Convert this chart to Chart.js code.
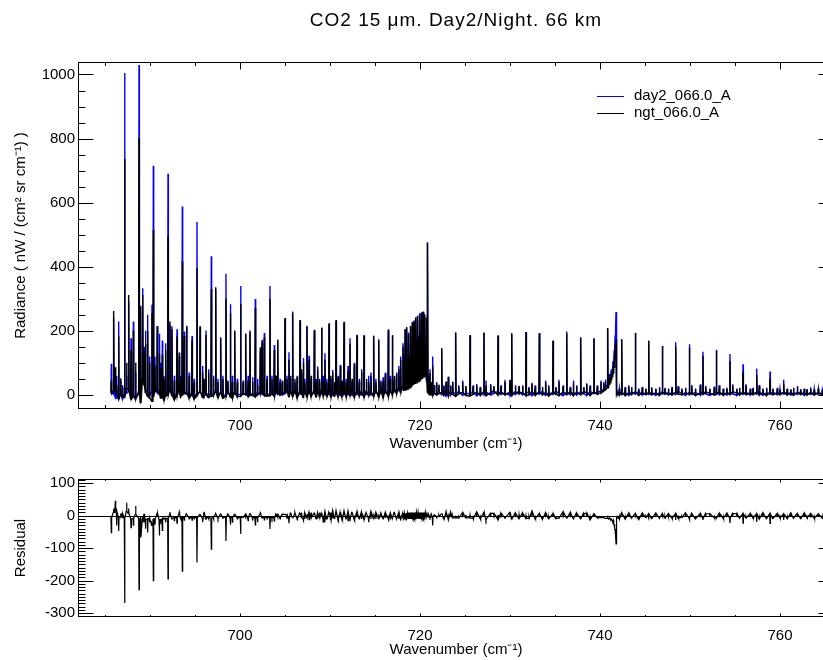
<!DOCTYPE html>
<html>
<head>
<meta charset="utf-8">
<title>CO2 15 um Day2/Night 66 km</title>
<script src="https://cdn.jsdelivr.net/npm/chart.js@4.4.1/dist/chart.umd.min.js"></script>
<style>
  html, body { margin: 0; padding: 0; background: #fff; }
  #wrap { position: relative; width: 823px; height: 660px; overflow: hidden; }
  #wrap canvas { position: absolute; left: 0; }
</style>
</head>
<body>
<div id="wrap">
  <canvas id="radianceChart" width="850" height="458" style="top:0"></canvas>
  <canvas id="residualChart" width="850" height="202" style="top:458px"></canvas>
</div>
<script>
// line centres (cm-1), in groups of ten
const lineWn = [
  685.70, 685.96, 686.15, 686.30, 686.52, 686.75, 686.95, 687.18, 687.40, 687.63,
  687.89, 688.15, 688.40, 688.78, 688.96, 689.19, 689.35, 689.50, 689.74, 689.95,
  690.22, 690.37, 690.55, 690.81, 691.04, 691.20, 691.37, 691.55, 691.74, 692.00,
  692.22, 692.44, 692.70, 693.00, 693.25, 693.40, 693.59, 693.81, 694.07, 694.35,
  694.67, 694.90, 695.22, 695.56, 695.85, 696.00, 696.22, 696.50, 696.81, 697.05,
  697.30, 697.55, 697.85, 698.10, 698.44, 698.65, 698.93, 699.15, 699.41, 699.70,
  700.07, 700.35, 700.63, 700.90, 701.11, 701.40, 701.70, 701.95, 702.26, 702.45,
  702.70, 703.00, 703.33, 703.55, 703.81, 704.00, 704.19, 704.45, 704.70, 705.00,
  705.22, 705.44, 705.62, 705.85, 706.10, 706.35, 706.67, 706.85, 707.04, 707.20,
  707.44, 707.67, 707.90, 708.26, 708.45, 708.63, 708.85, 709.07, 709.25, 709.44,
  709.65, 709.89, 710.10, 710.30, 710.50, 710.67, 710.90, 711.15, 711.35, 711.56,
  711.80, 712.00, 712.22, 712.45, 712.70, 713.00, 713.25, 713.50, 713.78, 714.05,
  714.30, 714.55, 714.85, 715.10, 715.41, 715.65, 715.90, 716.15, 716.48, 716.70,
  716.93, 717.15, 717.40, 717.65, 717.85, 718.11, 718.25, 718.35, 718.45, 718.55,
  718.65, 718.75, 718.85, 718.95, 719.05, 719.15, 719.25, 719.35, 719.45, 719.55,
  719.65, 719.74, 719.85, 719.95, 720.05, 720.15, 720.25, 720.35, 720.45, 720.55,
  720.65, 720.75, 720.85, 720.95, 721.11, 721.25, 721.41, 721.60, 721.85, 722.10,
  722.41, 722.65, 722.90, 723.15, 723.40, 723.63, 723.96, 724.30, 724.74, 725.10,
  725.56, 725.90, 726.30, 726.70, 727.11, 727.33, 727.85, 728.20, 728.67, 729.00,
  729.44, 730.00, 730.19, 730.60, 731.00, 731.40, 731.78, 732.10, 732.44, 732.80,
  733.26, 733.60, 733.96, 734.30, 734.78, 735.10, 735.44, 735.90, 736.30, 736.70,
  737.04, 737.40, 737.85, 738.20, 738.52, 738.90, 739.33, 739.70, 740.11, 740.40,
  740.60, 740.85, 741.00, 741.11, 741.25, 741.40, 741.48, 741.58, 741.68, 741.78,
  741.90, 742.15, 742.41, 742.80, 743.20, 743.50, 743.93, 744.30, 744.70, 745.10,
  745.41, 745.74, 746.20, 746.60, 746.93, 747.22, 747.60, 748.00, 748.41, 748.70,
  749.10, 749.50, 749.93, 750.19, 750.60, 751.15, 751.44, 751.74, 752.20, 752.70,
  752.93, 753.26, 753.70, 754.10, 754.44, 754.74, 755.20, 755.50, 755.89, 756.22,
  756.70, 757.00, 757.41, 757.70, 758.10, 758.50, 758.89, 759.20, 759.70, 760.00,
  760.41, 760.80, 761.20, 761.50, 761.93, 762.30, 762.70, 763.00, 763.41, 763.80,
  764.26, 764.70, 765.20, 765.90
];

// peak radiance of each line, day2_066.0_A
const dayPeak = [
  97, 240, 40, 60, 229, 45, 30, 1005, 60, 290,
  177, 229, 70, 1030, 278, 333, 150, 200, 250, 120,
  281, 715, 120, 214, 191, 100, 170, 60, 161, 690,
  218, 214, 60, 205, 120, 60, 588, 198, 210, 70,
  184, 50, 540, 210, 90, 40, 201, 80, 433, 60,
  330, 50, 175, 60, 378, 40, 283, 60, 198, 50,
  340, 45, 191, 60, 195, 55, 299, 50, 140, 172,
  193, 60, 340, 60, 156, 60, 172, 50, 40, 236,
  60, 133, 50, 260, 40, 60, 230, 70, 115, 50,
  212, 122, 50, 200, 50, 89, 40, 207, 60, 130,
  50, 220, 50, 78, 40, 230, 60, 94, 45, 225,
  50, 90, 177, 40, 100, 188, 50, 80, 187, 40,
  60, 70, 185, 50, 174, 45, 55, 70, 205, 60,
  187, 50, 70, 90, 120, 161, 125, 205, 95, 212,
  115, 195, 125, 215, 155, 228, 145, 232, 165, 242,
  175, 247, 185, 255, 195, 258, 205, 260, 215, 252,
  155, 242, 476, 60, 80, 40, 120, 30, 40, 30,
  140, 30, 40, 57, 30, 42, 195, 30, 45, 25,
  185, 30, 34, 25, 195, 45, 34, 25, 184, 30,
  47, 47, 193, 30, 25, 30, 196, 25, 38, 30,
  193, 25, 45, 30, 170, 25, 47, 30, 198, 25,
  45, 30, 180, 25, 36, 30, 177, 30, 45, 40,
  48, 208, 65, 57, 80, 105, 99, 140, 185, 259,
  10, 20, 174, 25, 30, 25, 193, 20, 25, 20,
  169, 24, 20, 25, 153, 22, 20, 25, 164, 28,
  20, 22, 158, 31, 20, 33, 135, 28, 20, 26,
  141, 31, 20, 22, 128, 33, 20, 22, 96, 33,
  20, 22, 82, 31, 20, 22, 73, 20, 22, 18,
  47, 20, 18, 22, 28, 18, 20, 18, 24, 18,
  20, 15, 15, 12
];

// peak radiance of each line, ngt_066.0_A
const ngtPeak = [
  45, 262, 86, 30, 182, 52, 22, 736, 100, 312,
  140, 200, 100, 802, 276, 312, 132, 160, 198, 100,
  255, 515, 92, 214, 130, 84, 125, 52, 140, 495,
  229, 205, 45, 182, 132, 50, 417, 184, 216, 60,
  170, 40, 396, 214, 70, 50, 188, 70, 330, 50,
  336, 40, 180, 50, 300, 45, 255, 40, 201, 40,
  284, 40, 191, 45, 201, 40, 271, 30, 149, 165,
  180, 50, 299, 50, 140, 60, 172, 40, 45, 240,
  50, 110, 60, 255, 50, 55, 234, 80, 100, 40,
  216, 110, 60, 203, 40, 80, 50, 210, 40, 110,
  40, 224, 60, 70, 40, 234, 55, 90, 40, 228,
  40, 75, 160, 50, 95, 185, 40, 70, 184, 50,
  40, 60, 182, 40, 170, 40, 45, 65, 201, 50,
  185, 60, 65, 80, 110, 150, 120, 205, 90, 210,
  110, 190, 120, 215, 150, 225, 140, 230, 160, 240,
  170, 245, 180, 250, 190, 255, 200, 258, 210, 250,
  150, 240, 476, 60, 68, 40, 90, 30, 36, 32,
  146, 26, 42, 55, 26, 40, 195, 26, 40, 28,
  187, 26, 30, 22, 193, 30, 30, 28, 186, 26,
  40, 45, 190, 26, 28, 26, 196, 22, 35, 26,
  192, 22, 40, 26, 168, 22, 40, 26, 192, 22,
  35, 26, 178, 22, 34, 26, 176, 26, 40, 35,
  42, 208, 55, 50, 70, 90, 85, 110, 140, 172,
  8, 18, 174, 22, 26, 22, 193, 18, 22, 18,
  169, 22, 18, 22, 153, 20, 18, 22, 151, 25,
  18, 20, 146, 28, 18, 30, 122, 25, 18, 24,
  138, 28, 18, 20, 106, 30, 18, 20, 73, 30,
  18, 20, 63, 28, 18, 20, 49, 18, 20, 16,
  34, 18, 16, 20, 24, 16, 18, 16, 19, 16,
  18, 14, 13, 10
];

// radiance at the foot of each line (continuum + noise)
const dayFoot = [
  8, 2, -6, -10, -8, 4, -12, 0, 6, 10,
  -4, 2, -14, 12, 40, 50, 30, 20, 6, -2,
  10, 4, 20, 8, 14, 2, 10, -6, 4, 8,
  12, 6, -8, 4, 12, 0, 6, 10, 2, -4,
  6, -6, 4, 8, 0, -4, 6, -2, 4, 2,
  8, -2, 4, -6, 2, 6, 0, -4, 4, 0,
  2, 6, 0, 4, -2, 4, 0, 6, 2, 10,
  4, 0, 4, 8, 2, 6, 2, 6, 0, 4,
  8, 2, 6, 2, 6, 0, 4, 8, 2, 6,
  0, 6, 2, 6, 0, 6, 2, 4, 8, 2,
  6, 2, 6, 0, 4, 2, 6, 0, 4, 2,
  6, 2, 6, 0, 4, 2, 6, 0, 4, 2,
  6, 0, 4, 6, 2, 6, 2, 6, 4, 8,
  6, 10, 12, 14, 16, 18, 20, 24, 22, 28,
  26, 32, 30, 36, 34, 40, 38, 44, 42, 48,
  46, 52, 50, 56, 54, 60, 58, 64, 62, 68,
  60, 40, 10, 6, 4, 6, 2, 4, 2, 6,
  2, 9, -2, 6, 0, 8, 3, 10, -1, 5,
  4, 10, -2, 7, 1, 9, 0, 5, 11, 2,
  6, -1, 8, 2, 11, 0, 5, 9, -2, 7,
  3, 10, -1, 6, 2, 11, 4, -2, 8, 1,
  7, 0, 9, 3, -1, 10, 4, 8, 12, 18,
  24, 30, 40, 48, 58, 72, 84, 110, 150, 200,
  6, 9, 1, 7, -1, 8, 3, 10, 0, 6,
  2, 8, -1, 6, 3, 9, 0, 7, 2, 10,
  5, -1, 8, 2, 7, 0, 9, 3, -1, 6,
  9, 1, 6, 0, 8, 3, -1, 7, 2, 8,
  0, 7, 3, 9, -1, 6, 2, 8, 1, 7,
  3, 8, 0, 6, 2, 9, -1, 5, 2, 7,
  2, 7, 0, 5
];

const ngtFoot = [
  4, 12, 18, 2, -12, 0, -6, -8, 20, 16,
  -14, -6, -10, 4, -25, 44, 36, 8, -4, -10,
  -20, -6, 10, 14, 2, -10, 2, -16, -4, 0,
  16, -2, -14, -2, 18, -6, 0, 4, 8, -10,
  0, -12, -2, 12, -8, 4, 0, -8, -4, -2,
  12, -8, 8, -10, -4, 10, -6, -10, 8, -6,
  -4, 2, 4, -4, 4, -2, -6, 0, 8, 4,
  -2, -4, -2, 2, -4, 10, 6, 0, 4, 8,
  10, -6, 14, -4, 12, -8, 12, 2, -8, 12,
  -6, 14, -4, 14, -8, 12, -4, 12, -2, 10,
  -4, 12, -6, 10, -4, 12, -4, 10, -6, 12,
  -4, 12, -2, 10, -6, 12, -2, 10, -6, 12,
  -2, 10, -4, 14, -6, 12, -6, 14, -4, 14,
  0, 20, 4, 22, 8, 26, 12, 30, 14, 36,
  18, 42, 22, 46, 26, 50, 30, 54, 34, 58,
  38, 62, 42, 66, 46, 70, 50, 74, 54, 78,
  64, 44, 6, 10, 0, 8, -2, 6, 0, 4,
  8, -1, 7, -3, 9, 1, -4, 3, 8, -2,
  -3, 2, 8, -1, 10, -2, 7, 12, 0, 9,
  0, 9, -2, 10, 3, 8, -3, 1, 10, -1,
  9, 0, 7, -3, 8, 2, -2, 9, 1, 10,
  -2, 8, 1, 10, 7, -1, 9, 2, 6, 12,
  16, 22, 30, 38, 46, 58, 66, 84, 110, 140,
  2, 0, 8, -2, 6, 1, 9, -1, 7, 1,
  7, 0, 6, -1, 9, 2, 6, 0, 8, 3,
  0, 7, 1, 8, -2, 6, 2, 9, 5, 0,
  2, 8, -1, 7, 1, 9, 6, 0, 8, 1,
  6, 1, 8, 0, 7, -2, 8, 0, 7, 1,
  8, 0, 7, -1, 8, 1, 6, 0, 8, 0,
  7, 0, 6, 1
];

// labelled ticks
const wnTicks = [700, 720, 740, 760];
const radTicks = [0, 200, 400, 600, 800, 1000];
const resTicks = [-300, -200, -100, 0, 100];

// each line is a narrow spike: foot, peak, foot
function spectrum(peaks, feet) {
  const pts = [];
  lineWn.forEach((wn, i) => {
    pts.push({ x: wn - 0.04, y: feet[i] });
    pts.push({ x: wn, y: peaks[i] });
    pts.push({ x: wn + 0.04, y: feet[i] });
  });
  return pts;
}

const dayPts = spectrum(dayPeak, dayFoot);
const ngtPts = spectrum(ngtPeak, ngtFoot);
const residPts = ngtPts.map((p, i) => ({ x: p.x, y: p.y - dayPts[i].y }));

Chart.defaults.font.family = "'Liberation Sans', Arial, sans-serif";
Chart.defaults.font.size = 15;
Chart.defaults.color = '#000';

// box around the plot with inward ticks on all four sides, plus title/legend/zero line
const idlFrame = {
  id: 'idlFrame',
  afterDraw(chart, args, o) {
    const { ctx, chartArea: a } = chart;
    const xs = chart.scales.x, ys = chart.scales.y;
    const L = Math.round(a.left) + 0.5, R = Math.round(a.right) - 0.5;
    const T = Math.round(a.top) + 0.5, B = Math.round(a.bottom) - 0.5;
    ctx.save();
    ctx.strokeStyle = '#000';
    ctx.lineWidth = 1;
    ctx.strokeRect(L, T, R - L, B - T);
    ctx.beginPath();
    for (let v = Math.ceil(xs.min / o.xMinor) * o.xMinor; v <= xs.max; v += o.xMinor) {
      const px = Math.round(xs.getPixelForValue(v)) + 0.5;
      const len = v % o.xMajor === 0 ? o.xLen[0] : o.xLen[1];
      ctx.moveTo(px, B); ctx.lineTo(px, B - len);
      ctx.moveTo(px, T); ctx.lineTo(px, T + len);
    }
    for (let v = Math.ceil(ys.min / o.yMinor) * o.yMinor; v <= ys.max; v += o.yMinor) {
      const py = Math.round(ys.getPixelForValue(v)) + 0.5;
      const len = v % o.yMajor === 0 ? o.yLen[0] : o.yLen[1];
      ctx.moveTo(L, py); ctx.lineTo(L + len, py);
      ctx.moveTo(R, py); ctx.lineTo(R - len, py);
    }
    if (o.zeroLine) {
      const py = Math.round(ys.getPixelForValue(0)) + 0.5;
      ctx.moveTo(L, py); ctx.lineTo(R, py);
    }
    ctx.stroke();

    if (o.title) {
      ctx.font = "19px 'Liberation Sans', Arial, sans-serif";
      ctx.letterSpacing = '1px';
      ctx.fillStyle = '#000';
      ctx.textAlign = 'center';
      ctx.textBaseline = 'middle';
      ctx.fillText(o.title, (a.left + a.right) / 2, 21);
      ctx.letterSpacing = '0px';
    }
    if (o.legend) {
      ctx.font = "15px 'Liberation Sans', Arial, sans-serif";
      ctx.textAlign = 'left';
      ctx.textBaseline = 'middle';
      chart.data.datasets.forEach((ds, i) => {
        const yy = 96.5 + i * 17;
        ctx.strokeStyle = ds.borderColor;
        ctx.lineWidth = 1;
        ctx.beginPath();
        ctx.moveTo(597, yy); ctx.lineTo(624, yy);
        ctx.stroke();
        ctx.fillStyle = '#000';
        ctx.fillText(ds.label, 634, yy - 1);
      });
    }
    ctx.restore();
  }
};

const plainLabel = v => String(v);

const radianceChart = new Chart(document.getElementById('radianceChart'), {
  type: 'line',
  data: {
    datasets: [
      { label: 'day2_066.0_A', data: dayPts, borderColor: '#0000ff', borderWidth: 1.4, order: 1 },
      { label: 'ngt_066.0_A', data: ngtPts, borderColor: '#000000', borderWidth: 1.4, order: 0 }
    ]
  },
  options: {
    responsive: false,
    animation: false,
    devicePixelRatio: 1,
    parsing: false,
    elements: { point: { radius: 0 }, line: { tension: 0 } },
    layout: { padding: { top: 62, right: 16, left: 0, bottom: 0 } },
    scales: {
      x: {
        type: 'linear', min: 682, max: 766,
        grid: { display: false, drawTicks: false },
        border: { display: false },
        afterBuildTicks: s => { s.ticks = wnTicks.map(v => ({ value: v })); },
        afterFit: s => { s.height = 49; },
        ticks: { padding: 8, maxRotation: 0, autoSkip: false, callback: plainLabel },
        title: { display: true, text: 'Wavenumber (cm⁻¹)', padding: { top: 0, bottom: 5 } }
      },
      y: {
        type: 'linear', min: -44, max: 1039,
        grid: { display: false, drawTicks: false },
        border: { display: false },
        afterBuildTicks: s => { s.ticks = radTicks.map(v => ({ value: v })); },
        afterFit: s => { s.width = 78; },
        ticks: { padding: 3, callback: plainLabel },
        title: { display: true, text: 'Radiance ( nW / (cm² sr cm⁻¹) )', padding: { top: 12, bottom: 0 } }
      }
    },
    plugins: {
      legend: { display: false },
      tooltip: { enabled: false },
      idlFrame: {
        xMinor: 5, xMajor: 20, xLen: [7, 3.5],
        yMinor: 50, yMajor: 200, yLen: [15, 7],
        title: 'CO2 15 μm. Day2/Night. 66 km',
        legend: true
      }
    }
  },
  plugins: [idlFrame]
});

const residualChart = new Chart(document.getElementById('residualChart'), {
  type: 'line',
  data: {
    datasets: [
      { label: 'Residual', data: residPts, borderColor: '#000000', borderWidth: 1.2 }
    ]
  },
  options: {
    responsive: false,
    animation: false,
    devicePixelRatio: 1,
    parsing: false,
    elements: { point: { radius: 0 }, line: { tension: 0 } },
    layout: { padding: { top: 21, right: 16, left: 0, bottom: 0 } },
    scales: {
      x: {
        type: 'linear', min: 682, max: 766,
        grid: { display: false, drawTicks: false },
        border: { display: false },
        afterBuildTicks: s => { s.ticks = wnTicks.map(v => ({ value: v })); },
        afterFit: s => { s.height = 43; },
        ticks: { padding: 10, maxRotation: 0, autoSkip: false, callback: plainLabel },
        title: { display: true, text: 'Wavenumber (cm⁻¹)', padding: { top: 0, bottom: 1 } }
      },
      y: {
        type: 'linear', min: -312, max: 113,
        grid: { display: false, drawTicks: false },
        border: { display: false },
        afterBuildTicks: s => { s.ticks = resTicks.map(v => ({ value: v })); },
        afterFit: s => { s.width = 78; },
        ticks: { padding: 3, callback: plainLabel },
        title: { display: true, text: 'Residual', padding: { top: 12, bottom: 0 } }
      }
    },
    plugins: {
      legend: { display: false },
      tooltip: { enabled: false },
      idlFrame: {
        xMinor: 5, xMajor: 20, xLen: [3, 1.5],
        yMinor: 10, yMajor: 100, yLen: [15, 7],
        zeroLine: true
      }
    }
  },
  plugins: [idlFrame]
});
</script>
</body>
</html>
